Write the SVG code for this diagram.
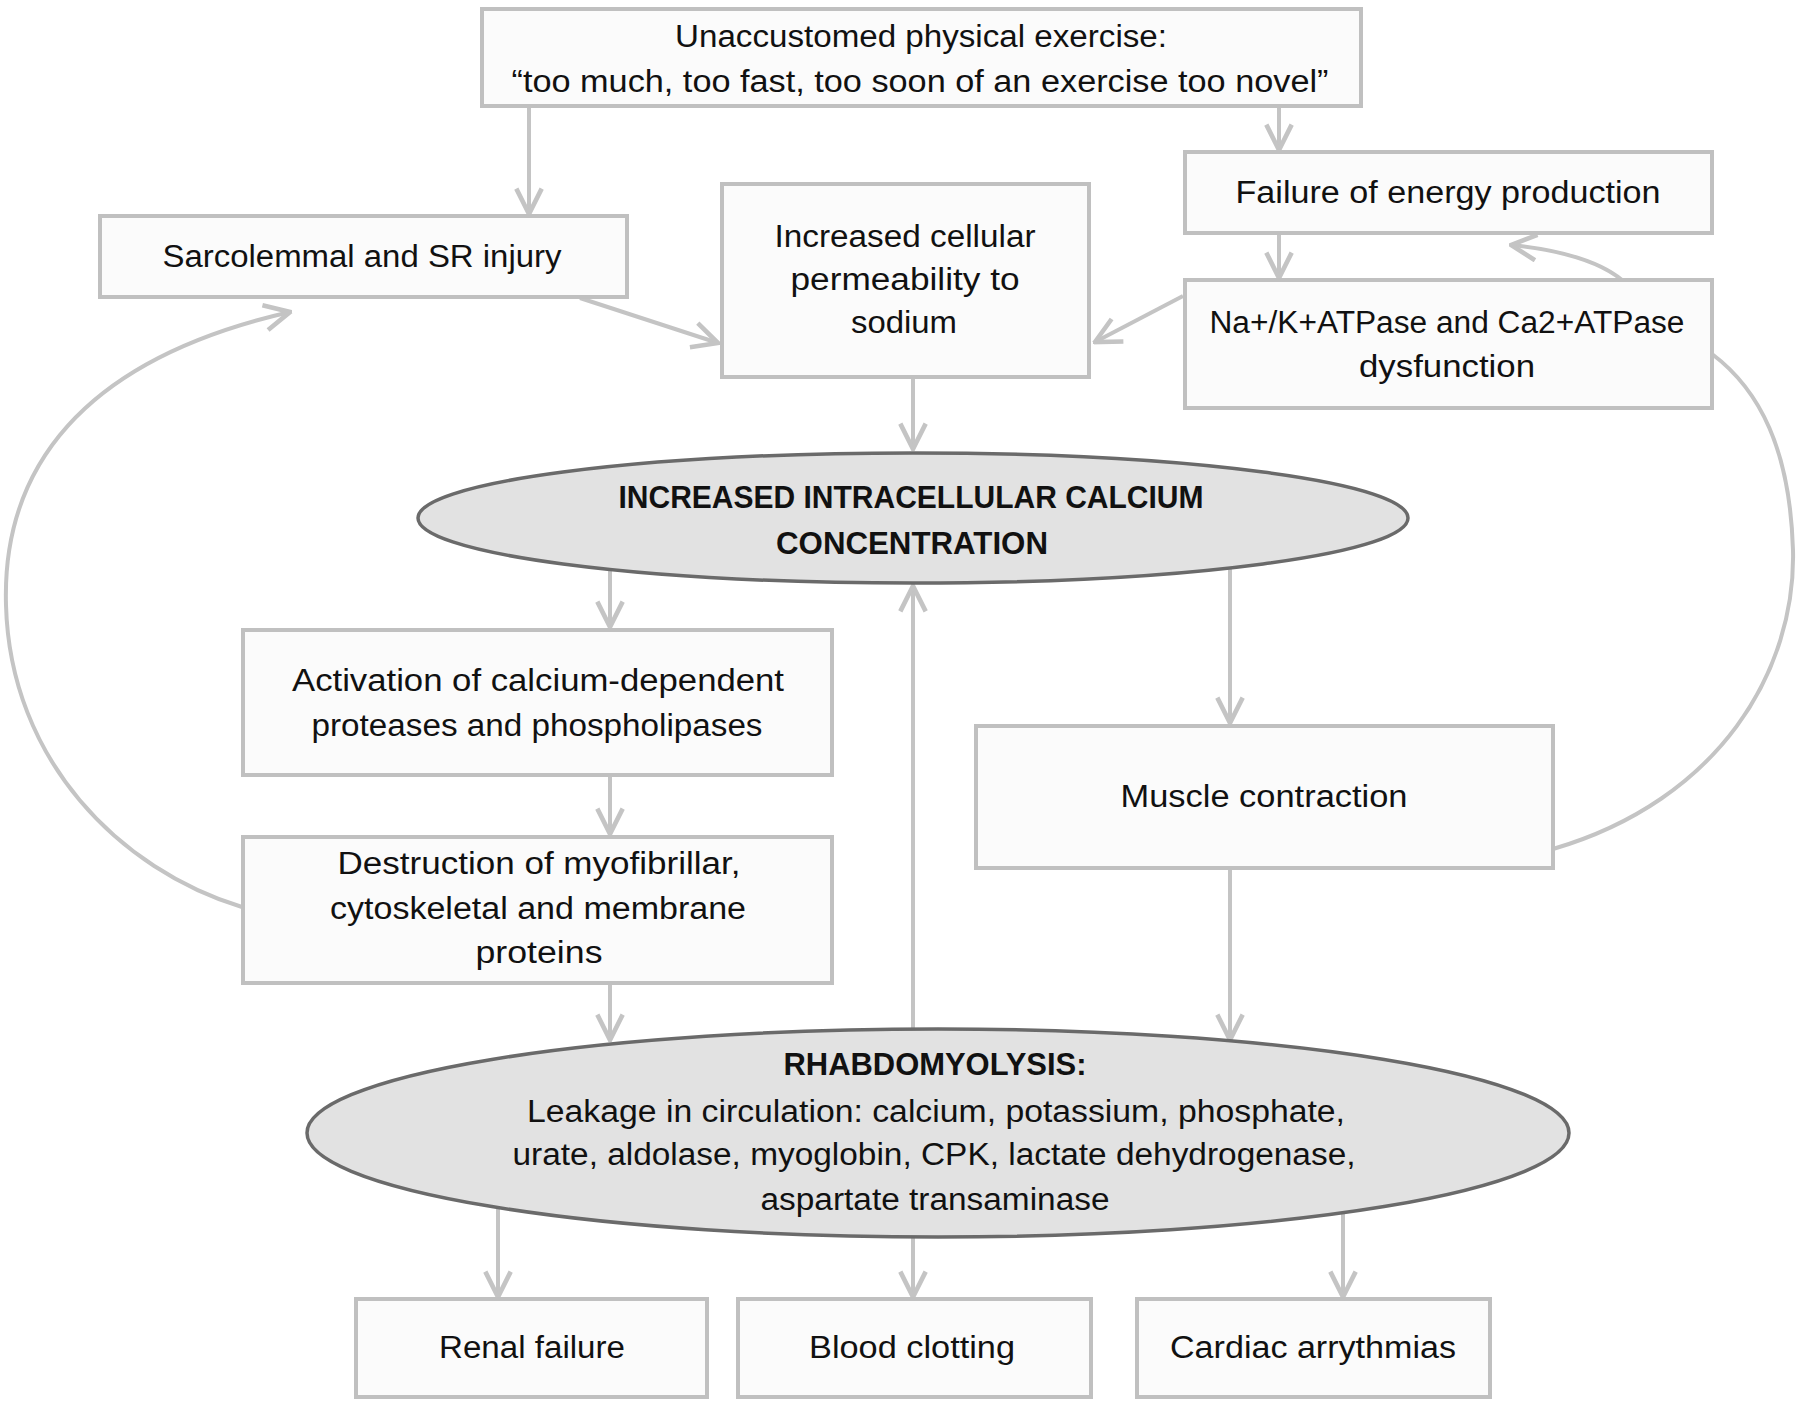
<svg xmlns="http://www.w3.org/2000/svg" width="1800" height="1406" viewBox="0 0 1800 1406">
<style>
.box{fill:#fbfbfb;stroke:#c0c0c0;stroke-width:4}
.ell{fill:#e2e2e2;stroke:#6a6a6a;stroke-width:3.5}
.t{font-family:"Liberation Sans",Arial,sans-serif;font-size:31px;fill:#111;text-anchor:middle}
.b{font-weight:bold}
.c{fill:none;stroke:#c4c4c4;stroke-width:4}
</style>
<defs>
<marker id="a" markerUnits="userSpaceOnUse" markerWidth="30" markerHeight="30" viewBox="-24 -13 26 26" refX="0" refY="0" orient="auto">
<path d="M-22,-11 L0,0 L-22,11" fill="none" stroke="#c4c4c4" stroke-width="4"/>
</marker>
</defs>
<rect width="1800" height="1406" fill="#fff"/>
<g id="connectors">
<path class="c" d="M529,107 V214" marker-end="url(#a)"/>
<path class="c" d="M1279,107 V150" marker-end="url(#a)"/>
<path class="c" d="M1279,234 V278" marker-end="url(#a)"/>
<path class="c" d="M580,298 L718,343" marker-end="url(#a)"/>
<path class="c" d="M1183,296 L1095,342" marker-end="url(#a)"/>
<path class="c" d="M1622,280 C1600,262 1560,250 1511,245" marker-end="url(#a)"/>
<path class="c" d="M913,378 V449" marker-end="url(#a)"/>
<path class="c" d="M610,569 V627" marker-end="url(#a)"/>
<path class="c" d="M610,776 V834" marker-end="url(#a)"/>
<path class="c" d="M610,984 V1040" marker-end="url(#a)"/>
<path class="c" d="M913,1030 V586" marker-end="url(#a)"/>
<path class="c" d="M1230,568 V723" marker-end="url(#a)"/>
<path class="c" d="M1230,869 V1040" marker-end="url(#a)"/>
<path class="c" d="M498,1205 V1297" marker-end="url(#a)"/>
<path class="c" d="M913,1237 V1297" marker-end="url(#a)"/>
<path class="c" d="M1343,1205 V1297" marker-end="url(#a)"/>
<path class="c" d="M1553,849 C1720,800 1796,670 1793,550 C1790,450 1760,390 1712,354"/>
<path class="c" d="M242,907 C120,870 10,760 6,605 C2,470 80,360 290,312" marker-end="url(#a)"/>
</g>
<g id="n-exercise">
<rect class="box" x="482" y="9" width="879" height="97"/>
<text class="t" x="921" y="47" textLength="492" lengthAdjust="spacingAndGlyphs">Unaccustomed physical exercise:</text>
<text class="t" x="920" y="92" textLength="817" lengthAdjust="spacingAndGlyphs">“too much, too fast, too soon of an exercise  too novel”</text>
</g>
<g id="n-sarco">
<rect class="box" x="100" y="216" width="527" height="81"/>
<text class="t" x="362" y="267" textLength="399" lengthAdjust="spacingAndGlyphs">Sarcolemmal and SR injury</text>
</g>
<g id="n-perm">
<rect class="box" x="722" y="184" width="367" height="193"/>
<text class="t" x="905" y="247" textLength="261" lengthAdjust="spacingAndGlyphs">Increased cellular</text>
<text class="t" x="905" y="290" textLength="229" lengthAdjust="spacingAndGlyphs">permeability to</text>
<text class="t" x="904" y="333" textLength="106" lengthAdjust="spacingAndGlyphs">sodium</text>
</g>
<g id="n-energy">
<rect class="box" x="1185" y="152" width="527" height="81"/>
<text class="t" x="1448" y="203" textLength="425" lengthAdjust="spacingAndGlyphs">Failure of energy production</text>
</g>
<g id="n-atpase">
<rect class="box" x="1185" y="280" width="527" height="128"/>
<text class="t" x="1447" y="333" textLength="475" lengthAdjust="spacingAndGlyphs">Na+/K+ATPase and Ca2+ATPase</text>
<text class="t" x="1447" y="377" textLength="176" lengthAdjust="spacingAndGlyphs">dysfunction</text>
</g>
<g id="n-calcium">
<ellipse class="ell" cx="913" cy="518" rx="495" ry="65"/>
<text class="t b" x="911" y="508" textLength="585" lengthAdjust="spacingAndGlyphs">INCREASED INTRACELLULAR CALCIUM</text>
<text class="t b" x="912" y="554" textLength="272" lengthAdjust="spacingAndGlyphs">CONCENTRATION</text>
</g>
<g id="n-activation">
<rect class="box" x="243" y="630" width="589" height="145"/>
<text class="t" x="538" y="691" textLength="492" lengthAdjust="spacingAndGlyphs">Activation of calcium-dependent</text>
<text class="t" x="537" y="736" textLength="451" lengthAdjust="spacingAndGlyphs">proteases and phospholipases</text>
</g>
<g id="n-destruction">
<rect class="box" x="243" y="837" width="589" height="146"/>
<text class="t" x="539" y="874" textLength="403" lengthAdjust="spacingAndGlyphs">Destruction of myofibrillar,</text>
<text class="t" x="538" y="919" textLength="416" lengthAdjust="spacingAndGlyphs">cytoskeletal and membrane</text>
<text class="t" x="539" y="963" textLength="127" lengthAdjust="spacingAndGlyphs">proteins</text>
</g>
<g id="n-muscle">
<rect class="box" x="976" y="726" width="577" height="142"/>
<text class="t" x="1264" y="807" textLength="287" lengthAdjust="spacingAndGlyphs">Muscle contraction</text>
</g>
<g id="n-rhabdo">
<ellipse class="ell" cx="938" cy="1133" rx="631" ry="104"/>
<text class="t b" x="935" y="1075" textLength="303" lengthAdjust="spacingAndGlyphs">RHABDOMYOLYSIS:</text>
<text class="t" x="936" y="1122" textLength="818" lengthAdjust="spacingAndGlyphs">Leakage in circulation: calcium, potassium,  phosphate,</text>
<text class="t" x="934" y="1165" textLength="843" lengthAdjust="spacingAndGlyphs">urate, aldolase, myoglobin, CPK, lactate dehydrogenase,</text>
<text class="t" x="935" y="1210" textLength="349" lengthAdjust="spacingAndGlyphs">aspartate transaminase</text>
</g>
<g id="n-renal">
<rect class="box" x="356" y="1299" width="351" height="98"/>
<text class="t" x="532" y="1358" textLength="186" lengthAdjust="spacingAndGlyphs">Renal failure</text>
</g>
<g id="n-blood">
<rect class="box" x="738" y="1299" width="353" height="98"/>
<text class="t" x="912" y="1358" textLength="206" lengthAdjust="spacingAndGlyphs">Blood clotting</text>
</g>
<g id="n-cardiac">
<rect class="box" x="1137" y="1299" width="353" height="98"/>
<text class="t" x="1313" y="1358" textLength="286" lengthAdjust="spacingAndGlyphs">Cardiac arrythmias</text>
</g>
</svg>
